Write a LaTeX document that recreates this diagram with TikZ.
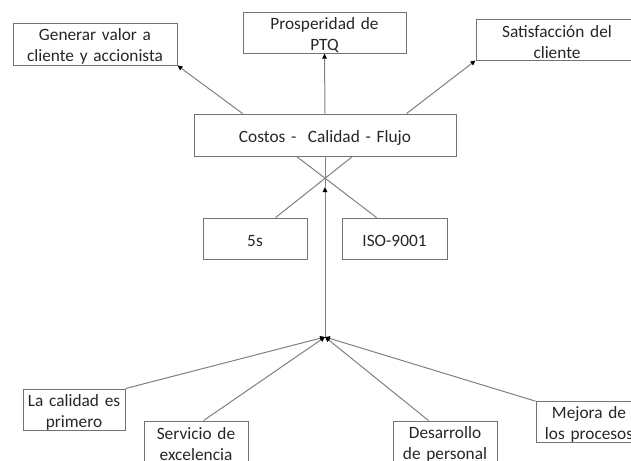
\documentclass[tikz,border=0pt]{standalone}
\usepackage{fontspec}
\setmainfont{Carlito}
\usetikzlibrary{arrows.meta}
\begin{document}
\begin{tikzpicture}[x=1pt,y=-1pt,
  box/.style={draw=black!55, line width=0.9pt, inner sep=0pt, align=center, text=black!85,
    font=\fontsize{17.3}{21}\selectfont, execute at begin node={\rule{0pt}{17pt}}},
  conn/.style={draw=black!50, line width=1pt},
  arr/.style={conn, -{Triangle[length=5pt,width=4.5pt,color=black,fill=black]}}]
\clip (0,0) rectangle (631,460);
% top row
\node[box, text width=164pt, minimum height=42pt] (gen) at (95,44) {Generar valor a\\cliente y accionista};
\node[box, text width=163pt, minimum height=40pt] (pros) at (324.5,33) {Prosperidad de\\PTQ};
\node[box, text width=162pt, minimum height=41pt] (sat) at (557,39.5) {Satisfacción del\\cliente};
% middle
\node[box, text width=262pt, minimum height=42pt] (cost) at (325,135) {Costos -\ \ Calidad - Flujo};
\node[box, text width=104pt, minimum height=41pt] (s5) at (255,238.5) {5s};
\node[box, text width=105pt, minimum height=41pt] (iso) at (394.5,238.5) {ISO-9001};
% bottom
\node[box, text width=102pt, minimum height=41pt] (cal) at (74,409.5) {La calidad es\\primero};
\node[box, text width=104pt, minimum height=41pt] (serv) at (196,441.5) {Servicio de\\excelencia};
\node[box, text width=104pt, minimum height=41pt] (des) at (445,441.5) {Desarrollo\\de personal};
\node[box, text width=106pt, minimum height=40pt] (mej) at (589,422) {Mejora de\\los procesos};
\coordinate (j) at (325,337);
\coordinate (tip) at (325,187);
% connectors
\draw[arr] ([xshift=49]cost.north west) -- (gen.south east);
\draw[arr] (cost.north) -- (pros.south);
\draw[arr] ([xshift=213]cost.north west) -- (sat.south west);
\draw[conn] ([xshift=103]cost.south west) -- ([xshift=35]iso.north west);
\draw[conn] ([xshift=159]cost.south west) -- ([xshift=73]s5.north west);
\draw[arr] (j) -- (tip);
\draw[conn] (tip) -- (cost.south);
\draw[arr] (cal.north east) -- (j);
\draw[arr] ([xshift=60]serv.north west) -- (j);
\draw[arr] ([xshift=36]des.north west) -- (j);
\draw[arr] (mej.north west) -- (j);
\end{tikzpicture}
\end{document}
